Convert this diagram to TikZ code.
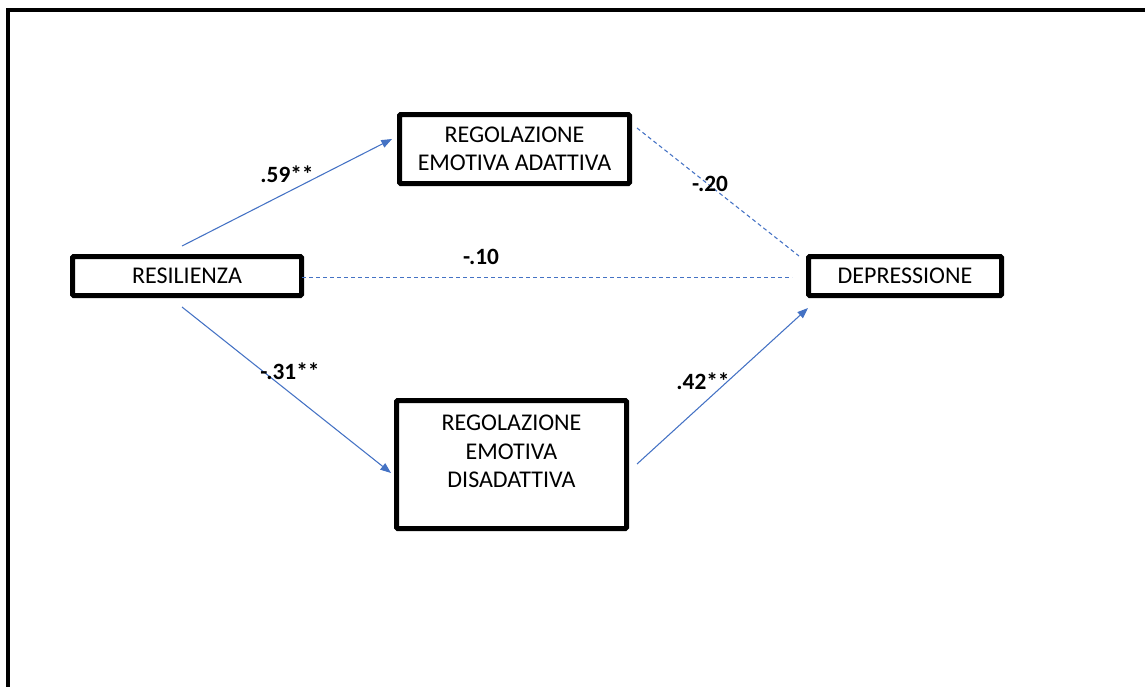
\documentclass[tikz,border=0pt]{standalone}
\usepackage{fontspec}
\setmainfont{Carlito}
\usetikzlibrary{arrows.meta}
\definecolor{linkblue}{HTML}{4472C4}
\tikzset{
  varbox/.style={draw=black, line width=3.75pt, rounded corners=0.8pt, fill=white,
    inner sep=0pt, font=\fontsize{18}{21.4}\selectfont},
  link/.style={draw=linkblue, line width=0.8pt},
  effect/.style={link, -{Triangle[length=8pt,width=6pt]}},
  weak/.style={link, dash pattern=on 3pt off 2.25pt},
  coef/.style={font=\fontsize{17.5}{20}\selectfont\bfseries, inner sep=0pt}
}
\begin{document}
\begin{tikzpicture}[x=0.75pt,y=-0.75pt]
  \useasboundingbox (0,0) rectangle (1145,686);
  % page frame, cut off on the right and at the bottom
  \draw[line width=2.6pt] (8,700) -- (8,10) -- (1160,10);

  % variables
  \node[varbox, minimum width=229*0.75pt, minimum height=39*0.75pt] (res) at (187,276) {RESILIENZA};
  \node[varbox, minimum width=230*0.75pt, minimum height=69*0.75pt, align=center] (ada) at (514.5,149)
    {REGOLAZIONE\\EMOTIVA ADATTIVA};
  \node[varbox, minimum width=193*0.75pt, minimum height=39*0.75pt] (dep) at (905,276) {DEPRESSIONE};
  \node[varbox, minimum width=230*0.75pt, minimum height=128*0.75pt] (dis) at (511.5,464.5) {};
  \node[font=\fontsize{18}{21.4}\selectfont, align=center, anchor=north, inner sep=0pt] (distext) at (511.5,415)
    {REGOLAZIONE\\EMOTIVA\\DISADATTIVA};

  % path ends
  \coordinate (a1) at (182,246);
  \coordinate (a2) at (392,139);
  \coordinate (b1) at (182,307);
  \coordinate (b2) at (391,473);
  \coordinate (c1) at (637,464);
  \coordinate (c2) at (808,308);
  \coordinate (d1) at (302,277.5);
  \coordinate (d2) at (792,277.5);
  \coordinate (e1) at (637,128);
  \coordinate (e2) at (799,256);

  % paths
  \draw[effect] (a1) -- (a2);
  \draw[effect] (b1) -- (b2);
  \draw[effect] (c1) -- (c2);
  \draw[weak] (d1) -- (d2);
  \draw[weak] (e1) -- (e2);

  % coefficients
  \node[coef] (k1) at (287,174) {.59**};
  \node[coef] (k2) at (290,371) {-.31**};
  \node[coef] (k3) at (703,381) {.42**};
  \node[coef] (k4) at (481,257) {-.10};
  \node[coef] (k5) at (710,184) {-.20};
\end{tikzpicture}
\end{document}
